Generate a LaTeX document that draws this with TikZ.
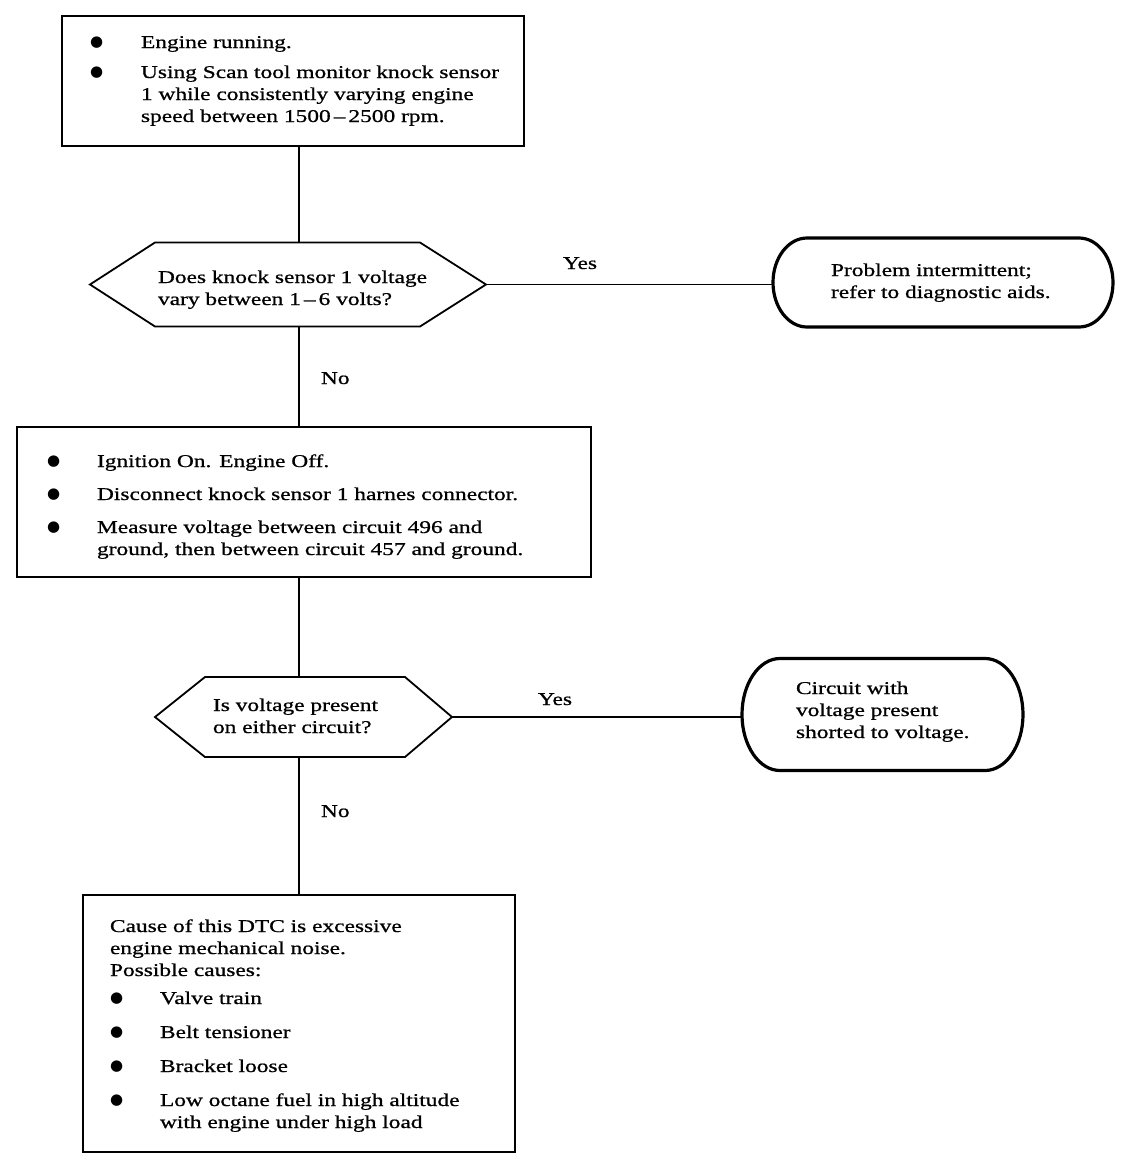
\documentclass[tikz,border=0pt]{standalone}
\usepackage{fontspec}
\setmainfont[FakeStretch=1.3,FakeBold=0.8]{Liberation Serif}
\newfontfamily\bulfont{DejaVu Sans}
\usetikzlibrary{calc}
\newcommand\bul{\raisebox{1.5pt}{\bulfont\fontsize{15}{15}\selectfont ●}}
\newcommand\lines[1]{\begin{tabular}[t]{@{}l@{}}#1\end{tabular}}
\tikzset{
  every node/.style={font=\fontsize{18}{22}\selectfont, inner sep=0pt, outer sep=0pt},
  frame/.style={draw, line width=1.8pt, rectangle},
  shapebox/.style={rectangle},
  hexline/.style={line width=1.8pt, line join=miter},
  termline/.style={line width=3.2pt},
  conn/.style={line width=1.8pt},
  txt/.style={anchor=base west},
}
\begin{document}
\begin{tikzpicture}[x=1pt,y=-1pt]
\useasboundingbox[fill=white] (0,0) rectangle (1136,1170);
\coordinate (sp) at (299,0);

% box 1
\node[frame, minimum width=462pt, minimum height=130pt] (b1) at (293,81) {};
\node[txt] (x1) at (90,48) {\begin{tabular}[t]{@{}p{51pt}@{}l@{}}\bul & Engine running.\\[8pt]
\bul & Using Scan tool monitor knock sensor\\
 & 1 while consistently varying engine\\
 & speed between 1500\,–\,2500 rpm.\end{tabular}};

% decision 1
\node[shapebox, minimum width=396pt, minimum height=84pt] (d1) at (288,284.5) {};
\draw[hexline] (d1.west) -- ($(d1.north west)+(65,0)$) -- ($(d1.north east)+(-66,0)$) -- (d1.east)
  -- ($(d1.south east)+(-66,0)$) -- ($(d1.south west)+(65,0)$) -- cycle;
\node[txt] (dt1) at (158,283) {\lines{Does knock sensor 1 voltage\\ vary between 1\,–\,6 volts?}};

% terminal 1
\node[shapebox, minimum width=340pt, minimum height=89pt] (t1) at (943,282.5) {};
\draw[termline] ($(t1.north west)+(34,0)$) -- ($(t1.north east)+(-34,0)$)
  arc[start angle=90, end angle=-90, x radius=34pt, y radius=44.5pt]
  -- ($(t1.south west)+(34,0)$)
  arc[start angle=270, end angle=90, x radius=34pt, y radius=44.5pt] -- cycle;
\node[txt] (tt1) at (831,276) {\lines{Problem intermittent;\\ refer to diagnostic aids.}};

% box 2
\node[frame, minimum width=574pt, minimum height=150pt] (b2) at (304,502) {};
\node[txt] (x2) at (47,467) {\begin{tabular}[t]{@{}p{50pt}@{}l@{}}\bul & Ignition On. Engine Off.\\[11pt]
\bul & Disconnect knock sensor 1 harnes connector.\\[11pt]
\bul & Measure voltage between circuit 496 and\\
 & ground, then between circuit 457 and ground.\end{tabular}};

% decision 2
\node[shapebox, minimum width=297pt, minimum height=80pt] (d2) at (303.5,717) {};
\draw[hexline] (d2.west) -- ($(d2.north west)+(50,0)$) -- ($(d2.north east)+(-47,0)$) -- (d2.east)
  -- ($(d2.south east)+(-47,0)$) -- ($(d2.south west)+(50,0)$) -- cycle;
\node[txt] (dt2) at (213,711) {\lines{Is voltage present\\ on either circuit?}};

% terminal 2
\node[shapebox, minimum width=281pt, minimum height=112pt] (t2) at (882.5,714.5) {};
\draw[termline] ($(t2.north west)+(38,0)$) -- ($(t2.north east)+(-38,0)$)
  arc[start angle=90, end angle=-90, x radius=38pt, y radius=56pt]
  -- ($(t2.south west)+(38,0)$)
  arc[start angle=270, end angle=90, x radius=38pt, y radius=56pt] -- cycle;
\node[txt] (tt2) at (796,694) {\lines{Circuit with\\ voltage present\\ shorted to voltage.}};

% box 3
\node[frame, minimum width=432pt, minimum height=257pt] (b3) at (299,1023.5) {};
\node[txt] (x3) at (110,932) {\begin{tabular}[t]{@{}p{50pt}@{}l@{}}\multicolumn{2}{@{}l@{}}{Cause of this DTC is excessive}\\
\multicolumn{2}{@{}l@{}}{engine mechanical noise.}\\
\multicolumn{2}{@{}l@{}}{Possible causes:}\\[6pt]
\bul & Valve train\\[12pt]
\bul & Belt tensioner\\[12pt]
\bul & Bracket loose\\[12pt]
\bul & Low octane fuel in high altitude\\
 & with engine under high load\end{tabular}};

% connectors
\draw[conn] (b1.south -| sp) -- (d1.north -| sp);
\draw[conn] (d1.east) -- (d1.east -| t1.west);
\draw[conn] (d1.south -| sp) -- (b2.north -| sp);
\draw[conn] (b2.south -| sp) -- (d2.north -| sp);
\draw[conn] (d2.east) -- (d2.east -| t2.west);
\draw[conn] (d2.south -| sp) -- (b3.north -| sp);

% labels
\node[txt] (y1) at (563,269) {Yes};
\node[txt] (n1) at (321,384) {No};
\node[txt] (y2) at (538,705) {Yes};
\node[txt] (n2) at (321,817) {No};
\end{tikzpicture}
\end{document}
